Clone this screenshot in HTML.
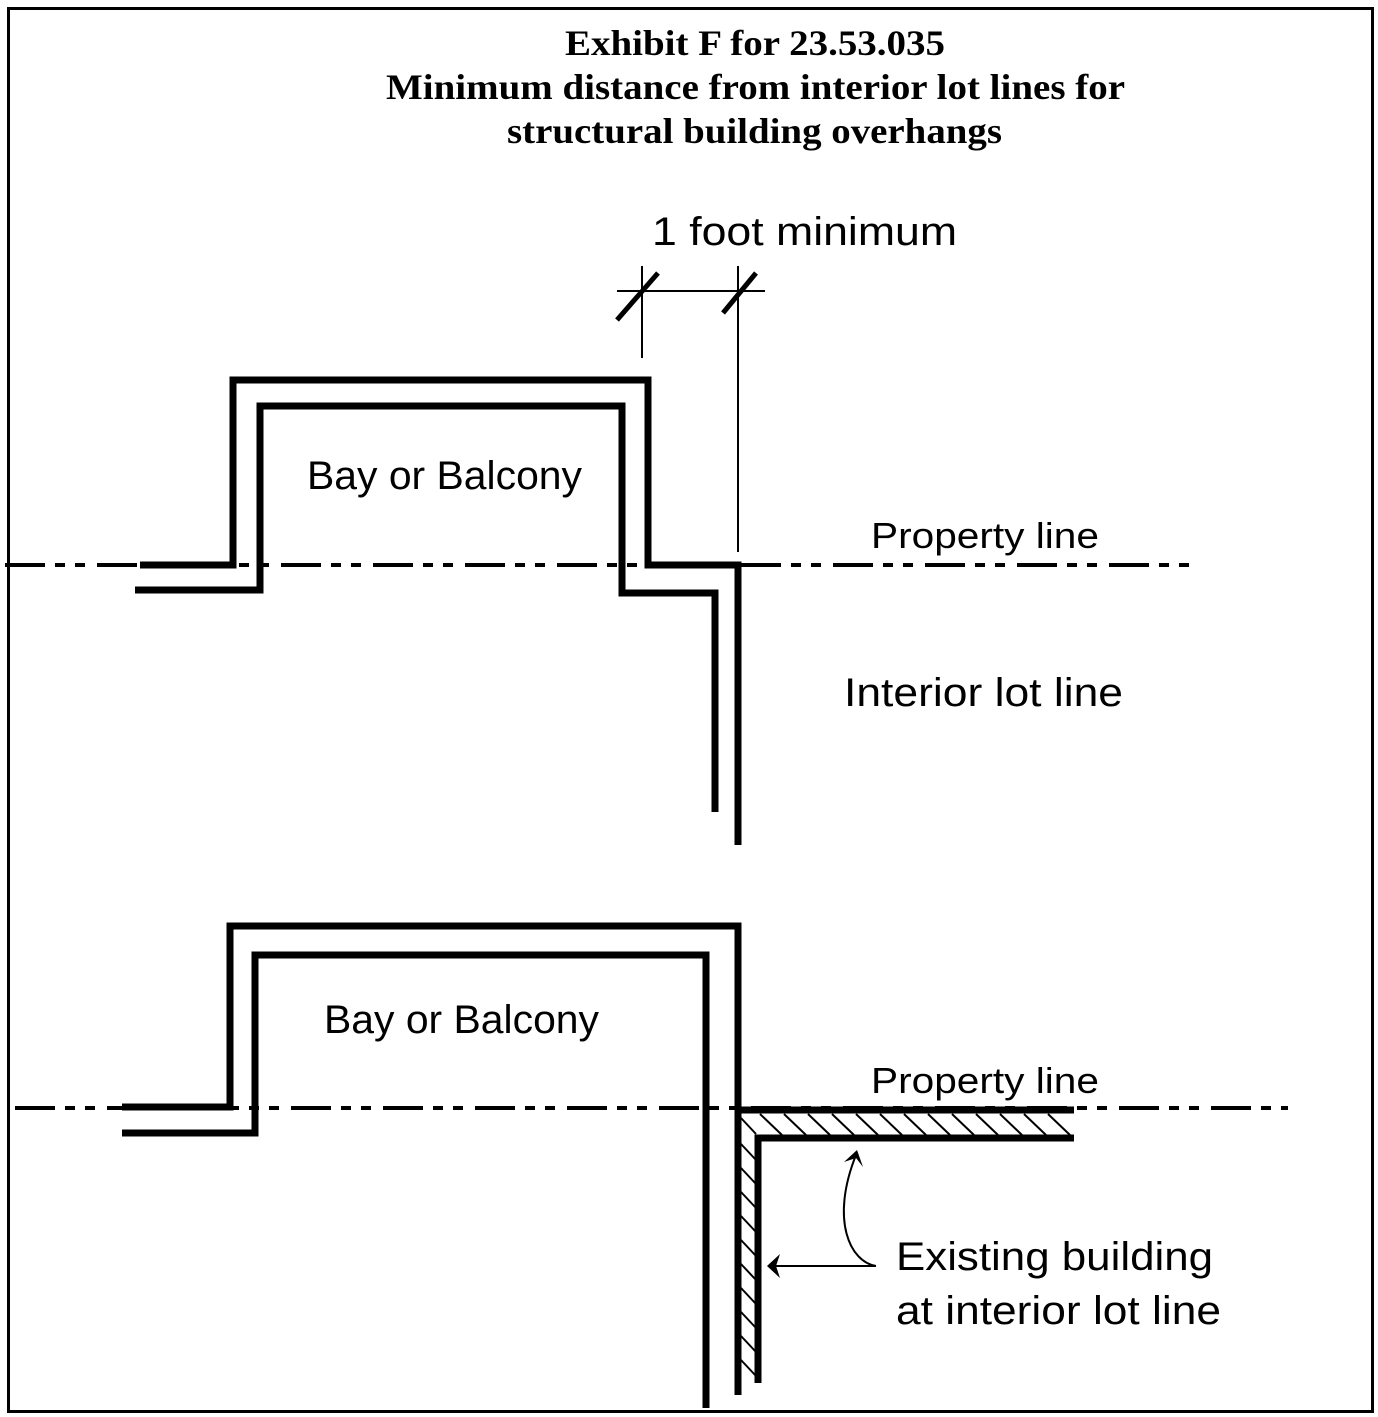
<!DOCTYPE html>
<html><head><meta charset="utf-8"><style>html,body{margin:0;padding:0;background:#fff}svg{display:block}</style></head>
<body>
<svg width="1378" height="1417" viewBox="0 0 1378 1417" xmlns="http://www.w3.org/2000/svg">
<rect x="0" y="0" width="1378" height="1417" fill="#fff"/>
<rect x="8.5" y="8.5" width="1364" height="1403" fill="none" stroke="#000" stroke-width="3"/>
<g font-family="Liberation Serif, serif" font-weight="bold" font-size="36" text-anchor="start">
<text x="565" y="55" textLength="380" lengthAdjust="spacingAndGlyphs">Exhibit F for 23.53.035</text>
<text x="386" y="99" textLength="739" lengthAdjust="spacingAndGlyphs">Minimum distance from interior lot lines for</text>
<text x="507" y="143" textLength="495" lengthAdjust="spacingAndGlyphs">structural building overhangs</text>
</g>
<g font-family="Liberation Sans, sans-serif" fill="#000">
<text x="652" y="245" font-size="40" textLength="305" lengthAdjust="spacingAndGlyphs">1 foot minimum</text>
<text x="307" y="489" font-size="40" textLength="275" lengthAdjust="spacingAndGlyphs">Bay or Balcony</text>
<text x="871" y="548" font-size="36" textLength="228" lengthAdjust="spacingAndGlyphs">Property line</text>
<text x="844" y="706" font-size="40" textLength="279" lengthAdjust="spacingAndGlyphs">Interior lot line</text>
<text x="324" y="1033" font-size="40" textLength="275" lengthAdjust="spacingAndGlyphs">Bay or Balcony</text>
<text x="871" y="1093" font-size="36" textLength="228" lengthAdjust="spacingAndGlyphs">Property line</text>
<text x="896" y="1270" font-size="40" textLength="317" lengthAdjust="spacingAndGlyphs">Existing building</text>
<text x="896" y="1324" font-size="40" textLength="325" lengthAdjust="spacingAndGlyphs">at interior lot line</text>
</g>
<!-- property lines -->
<g stroke="#000" stroke-width="4" fill="none" stroke-dasharray="40 10 10 10 10 12">
<line x1="5" y1="565" x2="1190" y2="565"/>
<line x1="15" y1="1108" x2="1288" y2="1108"/>
</g>
<!-- top diagram walls -->
<g stroke="#000" stroke-width="7" fill="none" stroke-linejoin="miter">
<polyline points="140,565 233,565 233,380 648,380 648,565 738,565 738,845"/>
<polyline points="135,590 260,590 260,406 622,406 622,593 715,593 715,812"/>
<polyline points="122,1107 230,1107 230,926 738,926 738,1395"/>
<polyline points="122,1133 255,1133 255,955 706,955 706,1408"/>
<polyline points="741,1110 1074,1110"/>
<polyline points="1074,1138 758,1138 758,1383"/>
</g>
<!-- dimension -->
<g stroke="#000" stroke-width="2" fill="none">
<line x1="642" y1="266" x2="642" y2="358"/>
<line x1="738" y1="266" x2="738" y2="552"/>
<line x1="617" y1="291" x2="765" y2="291"/>
</g>
<g stroke="#000" stroke-width="5">
<line x1="617" y1="320" x2="658" y2="273"/>
<line x1="723" y1="313" x2="756" y2="273"/>
</g>
<!-- hatch -->
<g stroke="#000" stroke-width="2">
<line x1="760" y1="1114" x2="782" y2="1135"/><line x1="784" y1="1114" x2="806" y2="1135"/><line x1="808" y1="1114" x2="830" y2="1135"/><line x1="832" y1="1114" x2="854" y2="1135"/><line x1="856" y1="1114" x2="878" y2="1135"/><line x1="880" y1="1114" x2="902" y2="1135"/><line x1="904" y1="1114" x2="926" y2="1135"/><line x1="928" y1="1114" x2="950" y2="1135"/><line x1="952" y1="1114" x2="974" y2="1135"/><line x1="976" y1="1114" x2="998" y2="1135"/><line x1="1000" y1="1114" x2="1022" y2="1135"/><line x1="1024" y1="1114" x2="1046" y2="1135"/><line x1="1048" y1="1114" x2="1070" y2="1135"/>
<line x1="741" y1="1118" x2="756" y2="1134"/><line x1="741" y1="1144" x2="756" y2="1160"/><line x1="741" y1="1168" x2="756" y2="1184"/><line x1="741" y1="1192" x2="756" y2="1208"/><line x1="741" y1="1216" x2="756" y2="1232"/><line x1="741" y1="1240" x2="756" y2="1256"/><line x1="741" y1="1264" x2="756" y2="1280"/><line x1="741" y1="1288" x2="756" y2="1304"/><line x1="741" y1="1312" x2="756" y2="1328"/><line x1="741" y1="1336" x2="756" y2="1352"/><line x1="741" y1="1360" x2="756" y2="1376"/>
</g>
<!-- arrows -->
<g stroke="#000" stroke-width="2" fill="none">
<path d="M876,1266 C850,1262 830,1220 856,1155"/>
<line x1="876" y1="1266" x2="772" y2="1266"/>
</g>
<path d="M857,1150 L844,1162 L856,1158 L863,1167 Z" fill="#000"/>
<path d="M767,1266 L780,1254 L776,1266 L780,1278 Z" fill="#000"/>
</svg>
</body></html>
